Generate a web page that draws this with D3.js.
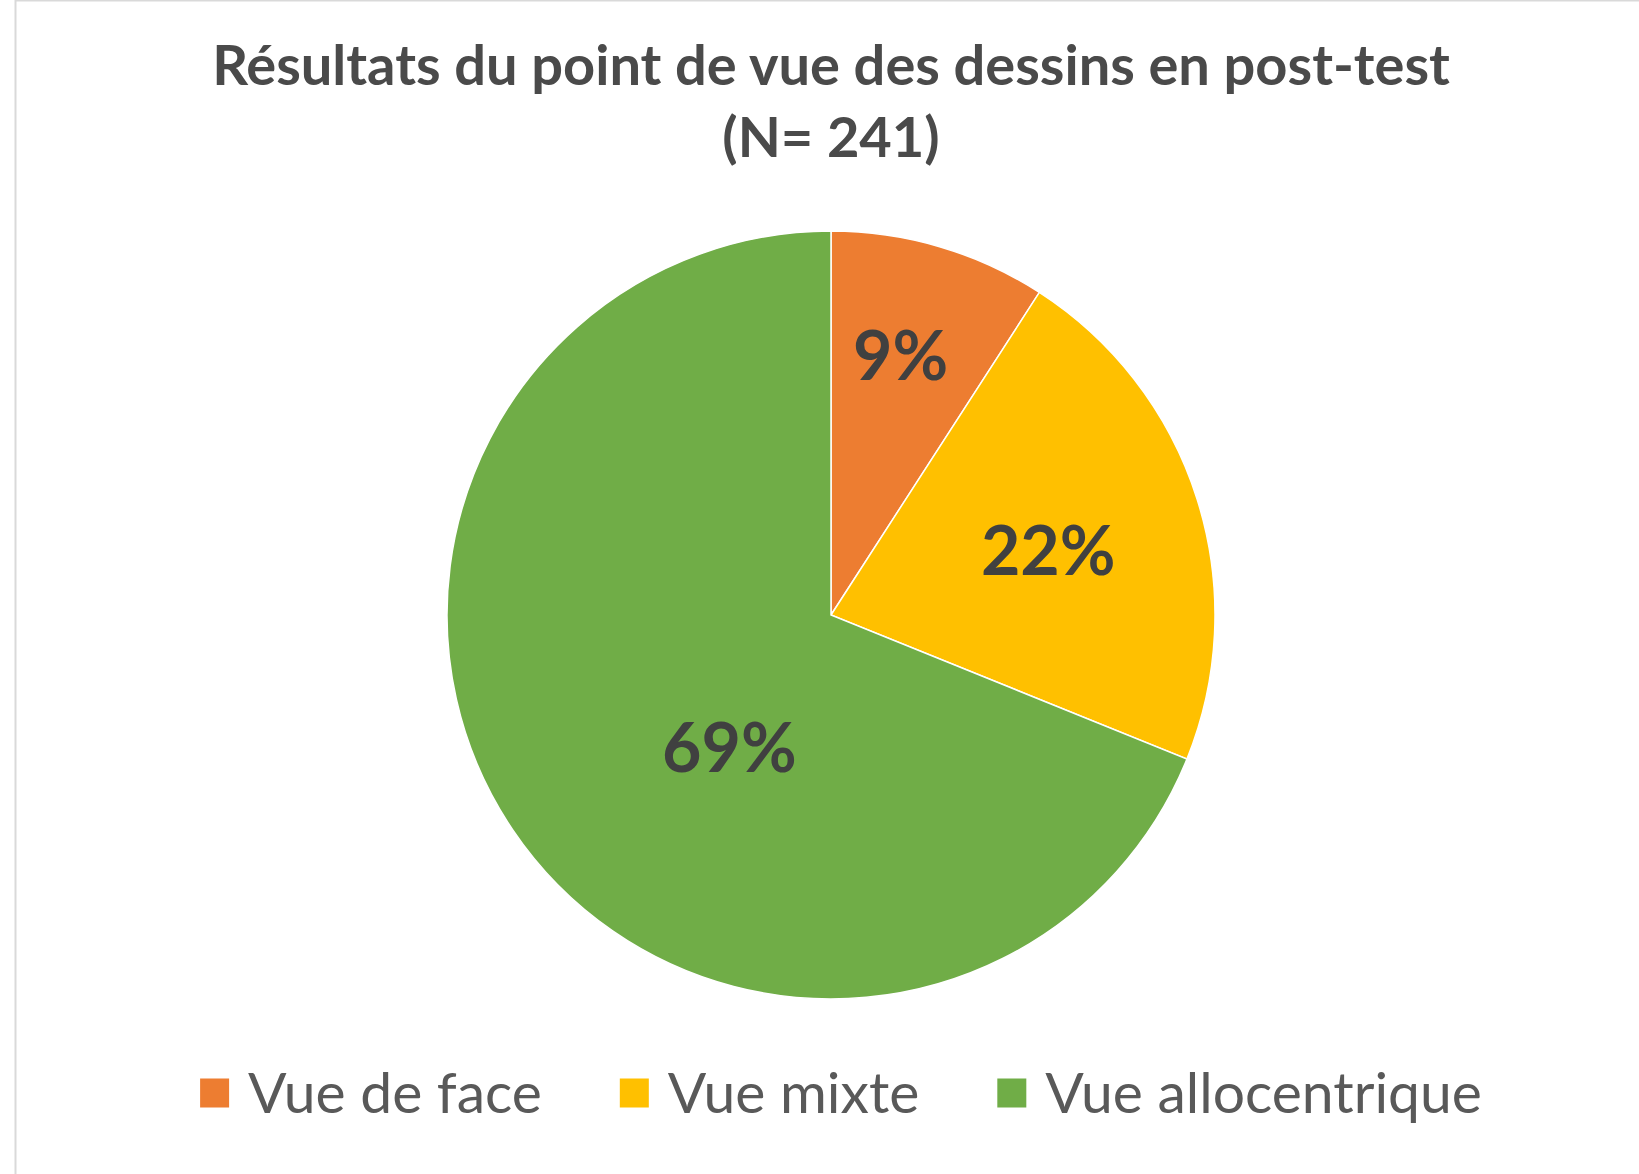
<!DOCTYPE html>
<html>
<head>
<meta charset="utf-8">
<script src="https://cdn.jsdelivr.net/npm/d3@7"></script>
<style>
  body { margin: 0; background: #fff; }
  svg text { font-family: Lato, "Open Sans", sans-serif; }
</style>
</head>
<body>
<div id="chart"></div>
<script>
var width = 1639,
  height = 1174;

// data
var categories = ['Vue de face', 'Vue mixte', 'Vue allocentrique'];
var counts = [22, 53, 166];
var labels = ['9%', '22%', '69%'];
var colors = ['#ED7D31', '#FFC000', '#70AD47'];
var titleLines = ['Résultats du point de vue des dessins en post-test', '(N= 241)'];

// label placement (angle in degrees from 12 o'clock, fraction of radius), Excel "best fit"
var labelAngle = [15, 73.5, 217.5];
var labelRadius = [0.70, 0.59, 0.435];

var cx = 831,
  cy = 615,
  radius = 384;

var svg = d3
  .select('#chart')
  .append('svg')
  .attr('width', width)
  .attr('height', height);

// chart area border
svg
  .append('rect')
  .attr('x', 15.5)
  .attr('y', 0.5)
  .attr('width', width + 20)
  .attr('height', height + 20)
  .attr('fill', '#fff')
  .attr('stroke', '#d9d9d9')
  .attr('stroke-width', 2);

// title
svg
  .selectAll('.title')
  .data(titleLines)
  .enter()
  .append('text')
  .attr('class', 'title')
  .attr('x', 831)
  .attr('y', function (d, i) {
    return 85 + i * 72;
  })
  .attr('text-anchor', 'middle')
  .style('font-size', '56px')
  .style('font-weight', 'bold')
  .style('fill', '#4a4a4a')
  .text(function (d) {
    return d;
  });

var pie = d3.pie().sort(null).value(function (d) {
  return d;
});
var arcs = pie(counts);

var arc = d3.arc().innerRadius(0).outerRadius(radius);

var g = svg.append('g').attr('transform', 'translate(' + cx + ',' + cy + ')');

g.selectAll('path')
  .data(arcs)
  .enter()
  .append('path')
  .attr('d', arc)
  .attr('fill', function (d, i) {
    return colors[i];
  })
  .attr('stroke', '#fff')
  .attr('stroke-width', 1.5);

g.selectAll('.lbl')
  .data(arcs)
  .enter()
  .append('text')
  .attr('class', 'lbl')
  .attr('transform', function (d, i) {
    var a = (labelAngle[i] * Math.PI) / 180,
      r = radius * labelRadius[i];
    return 'translate(' + r * Math.sin(a) + ',' + -r * Math.cos(a) + ')';
  })
  .attr('text-anchor', 'middle')
  .attr('dy', '0.36em')
  .style('font-size', '68px')
  .style('font-weight', 'bold')
  .style('fill', '#404040')
  .text(function (d, i) {
    return labels[i];
  });

// legend
var legend = svg.append('g').attr('class', 'legend');
var legendY = 1093,
  box = 29,
  x = 0;

categories.forEach(function (c, i) {
  var item = legend.append('g').attr('transform', 'translate(' + x + ',0)');
  item
    .append('rect')
    .attr('x', 0)
    .attr('y', legendY - box / 2)
    .attr('width', box)
    .attr('height', box)
    .attr('fill', colors[i]);
  var t = item
    .append('text')
    .attr('x', box + 19)
    .attr('y', legendY)
    .attr('dy', '0.35em')
    .style('font-size', '57px')
    .style('fill', '#595959')
    .text(c);
  x += box + 19 + t.node().getComputedTextLength() + 78;
});

var legendWidth = x - 78;
legend.attr('transform', 'translate(' + (841 - legendWidth / 2) + ',0)');
</script>
</body>
</html>
